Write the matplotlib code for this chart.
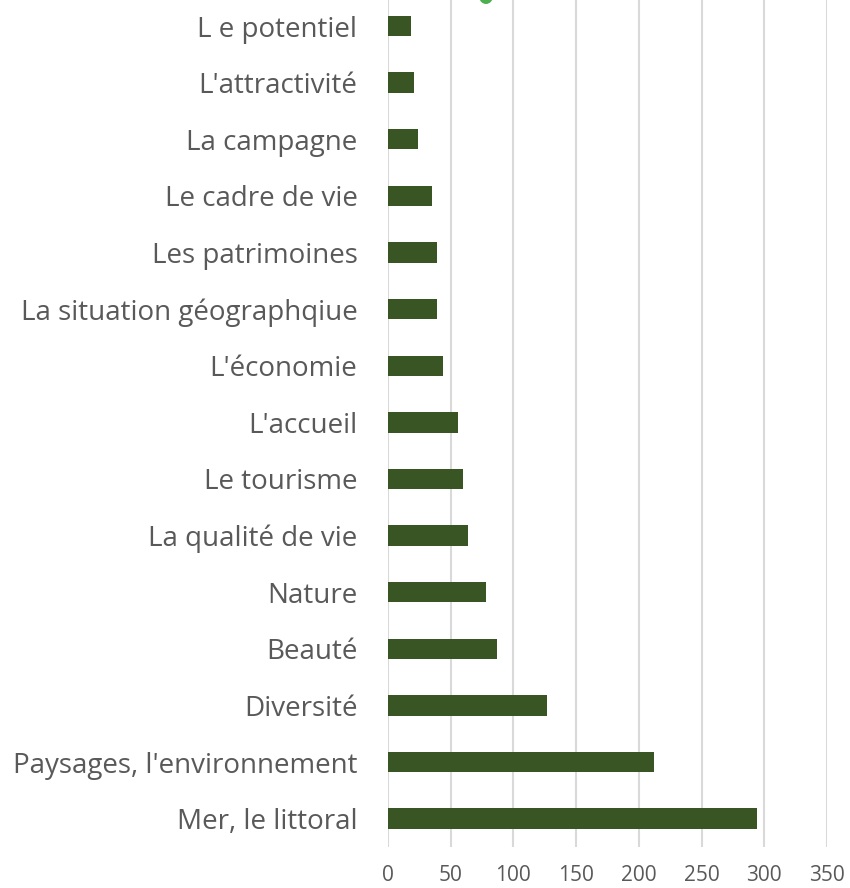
import matplotlib.pyplot as plt
from matplotlib.patches import Circle

categories = ["Mer, le littoral", "Paysages, l'environnement", "Diversité", "Beauté",
              "Nature", "La qualité de vie", "Le tourisme", "L'accueil", "L'économie",
              "La situation géographqiue", "Les patrimoines", "Le cadre de vie",
              "La campagne", "L'attractivité", "L e potentiel"]
values = [294, 212, 127, 87, 78, 64, 60, 56, 44, 39, 39, 35, 24, 21, 18]
xticks = [0, 50, 100, 150, 200, 250, 300, 350]

plt.rcParams['font.family'] = ['Open Sans', 'DejaVu Sans']
text_color = '#595959'

fig = plt.figure(figsize=(8.5, 8.88), dpi=100)
ax = fig.add_axes([388/850, 41/888, 439/850, 849.3/888])

pos = list(range(len(categories)))
ax.barh(pos, values, height=0.36, color='#3A5524', zorder=3)

ax.set_xlim(0, 350)
ax.set_ylim(-0.5, len(categories) - 0.5)
ax.set_xticks(xticks)
ax.set_xticklabels([str(t) for t in xticks], fontsize=15, color=text_color)
ax.set_yticks(pos)
ax.set_yticklabels(categories, fontsize=20, color=text_color)
ax.tick_params(axis='both', length=0)
ax.tick_params(axis='x', pad=13)
ax.tick_params(axis='y', pad=22)

ax.grid(axis='x', color='#D9D9D9', linewidth=1.5, zorder=0)
for s in ax.spines.values():
    s.set_visible(False)

# small cut-off green marker at the top edge
fig.patches.append(Circle((486/850, 891/888), 6/850, transform=fig.transFigure,
                          color='#4CAF50', zorder=5))

fig.savefig('out.png', dpi=100)
